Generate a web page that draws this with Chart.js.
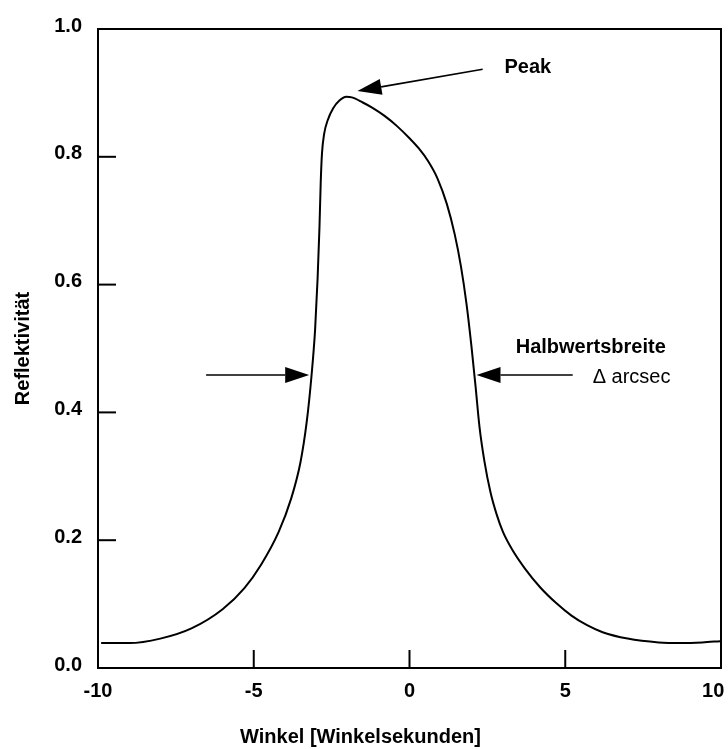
<!DOCTYPE html>
<html>
<head>
<meta charset="utf-8">
<script src="https://cdn.jsdelivr.net/npm/chart.js@4/dist/chart.umd.min.js"></script>
<style>
  body { margin: 0; background: #fff; }
  #wrap { width: 728px; height: 749px; }
</style>
</head>
<body>
<div id="wrap"><canvas id="rocking-curve"></canvas></div>
<script>
// Reflektivitätskurve, Werte
const winkel = [-9.9, -9.0, -8.0, -7.0, -6.0, -5.3, -4.76, -4.2, -3.8, -3.5, -3.3, -3.15, -3.03, -2.95, -2.89, -2.85, -2.81, -2.74, -2.62, -2.45, -2.25, -2.03, -1.85, -1.5, -1.2, -0.8, -0.4, 0.0, 0.3, 0.6, 0.9, 1.2, 1.45, 1.65, 1.83, 1.99, 2.12, 2.25, 2.4, 2.6, 2.8, 3.0, 3.3, 3.7, 4.2, 4.7, 5.2, 5.7, 6.2, 7.0, 8.0, 8.7, 9.4, 9.97];
const reflektivitaet = [0.039, 0.039, 0.046, 0.062, 0.092, 0.125, 0.162, 0.213, 0.265, 0.322, 0.385, 0.455, 0.53, 0.61, 0.69, 0.76, 0.805, 0.836, 0.858, 0.876, 0.888, 0.894, 0.893, 0.885, 0.877, 0.864, 0.848, 0.829, 0.813, 0.793, 0.766, 0.726, 0.679, 0.629, 0.570, 0.503, 0.441, 0.376, 0.325, 0.275, 0.240, 0.213, 0.185, 0.156, 0.126, 0.102, 0.082, 0.067, 0.056, 0.046, 0.040, 0.039, 0.040, 0.042];

const xTicks = [-10, -5, 0, 5, 10];
const yTicks = [0.0, 0.2, 0.4, 0.6, 0.8, 1.0];

// Pfeile und Beschriftungen in Datenkoordinaten
const peakArrow = { from: [2.35, 0.937], to: [-1.67, 0.903] };
const fwhmArrows = [
    { from: [-6.53, 0.4585], to: [-3.22, 0.4585] },
    { from: [5.24, 0.4585], to: [2.15, 0.4585] }
];
const notes = [
    { text: "Peak", at: [3.05, 0.939], bold: true },
    { text: "Halbwertsbreite", at: [3.41, 0.501], bold: true },
    { text: "\u0394 arcsec", at: [5.88, 0.455], bold: false }
];

const FONT = "'Liberation Sans', Arial, sans-serif";

function drawArrow(ctx, x1, y1, x2, y2) {
    const ang = Math.atan2(y2 - y1, x2 - x1);
    const len = 24, half = 8;
    const bx = x2 - len * Math.cos(ang), by = y2 - len * Math.sin(ang);
    ctx.beginPath();
    ctx.moveTo(x1, y1);
    ctx.lineTo(bx, by);
    ctx.stroke();
    ctx.beginPath();
    ctx.moveTo(x2, y2);
    ctx.lineTo(bx + half * Math.sin(ang), by - half * Math.cos(ang));
    ctx.lineTo(bx - half * Math.sin(ang), by + half * Math.cos(ang));
    ctx.closePath();
    ctx.fill();
}

const framePlugin = {
    id: "frame",
    afterDatasetsDraw(chart) {
        const { ctx, chartArea: a, scales: { x, y } } = chart;
        ctx.save();
        ctx.strokeStyle = "#000";
        ctx.fillStyle = "#000";
        ctx.lineWidth = 2;
        ctx.strokeRect(a.left, a.top, a.right - a.left, a.bottom - a.top);

        // Teilstriche nach innen
        xTicks.slice(1, -1).forEach(v => {
            const px = x.getPixelForValue(v);
            ctx.beginPath();
            ctx.moveTo(px, a.bottom);
            ctx.lineTo(px, a.bottom - 18);
            ctx.stroke();
        });
        yTicks.slice(1, -1).forEach(v => {
            const py = y.getPixelForValue(v);
            ctx.beginPath();
            ctx.moveTo(a.left, py);
            ctx.lineTo(a.left + 18, py);
            ctx.stroke();
        });

        ctx.lineWidth = 1.6;
        [peakArrow, ...fwhmArrows].forEach(ar => {
            drawArrow(ctx,
                x.getPixelForValue(ar.from[0]), y.getPixelForValue(ar.from[1]),
                x.getPixelForValue(ar.to[0]), y.getPixelForValue(ar.to[1]));
        });

        ctx.textAlign = "left";
        ctx.textBaseline = "middle";
        notes.forEach(n => {
            ctx.font = (n.bold ? "bold " : "") + "20px " + FONT;
            ctx.fillText(n.text, x.getPixelForValue(n.at[0]), y.getPixelForValue(n.at[1]));
        });
        ctx.restore();
    }
};

const ctx = document.getElementById("rocking-curve").getContext("2d");
new Chart(ctx, {
    type: "scatter",
    data: {
        datasets: [{
            label: "Reflektivität",
            data: winkel.map((w, i) => ({ x: w, y: reflektivitaet[i] })),
            showLine: true,
            borderColor: "#000",
            borderWidth: 2,
            pointRadius: 0,
            cubicInterpolationMode: "monotone",
            fill: false
        }]
    },
    options: {
        responsive: true,
        maintainAspectRatio: false,
        animation: false,
        layout: { padding: { top: 29, right: 7, bottom: 0, left: 0 } },
        plugins: {
            legend: { display: false },
            tooltip: { enabled: false },
            title: {
                display: true,
                position: "bottom",
                text: "Winkel [Winkelsekunden]",
                color: "#000",
                font: { family: FONT, size: 20, weight: "bold" },
                padding: { top: 0, bottom: 0 }
            }
        },
        scales: {
            x: {
                type: "linear",
                min: -10,
                max: 10,
                afterBuildTicks: s => { s.ticks = xTicks.map(v => ({ value: v })); },
                afterFit: s => { s.height = 57; s.paddingLeft = 0; s.paddingRight = 0; },
                grid: { display: false, drawTicks: false },
                border: { display: false },
                ticks: {
                    color: "#000",
                    padding: 11,
                    maxRotation: 0,
                    font: { family: FONT, size: 20, weight: "bold" },
                    // letzte Beschriftung etwas nach links, damit sie nicht abgeschnitten wird
                    callback: v => v === 10 ? "10\u2002 " : String(v)
                }
            },
            y: {
                min: 0,
                max: 1,
                afterBuildTicks: s => { s.ticks = yTicks.map(v => ({ value: v })); },
                afterFit: s => { s.width = 98; s.paddingTop = 0; s.paddingBottom = 0; },
                grid: { display: false, drawTicks: false },
                border: { display: false },
                title: {
                    display: true,
                    text: "Reflektivität",
                    color: "#000",
                    font: { family: FONT, size: 20, weight: "bold" },
                    padding: { top: 11, bottom: 0 }
                },
                ticks: {
                    color: "#000",
                    padding: 16,
                    labelOffset: -3,
                    font: { family: FONT, size: 20, weight: "bold" },
                    callback: v => v.toFixed(1)
                }
            }
        }
    },
    plugins: [framePlugin]
});
</script>
</body>
</html>
